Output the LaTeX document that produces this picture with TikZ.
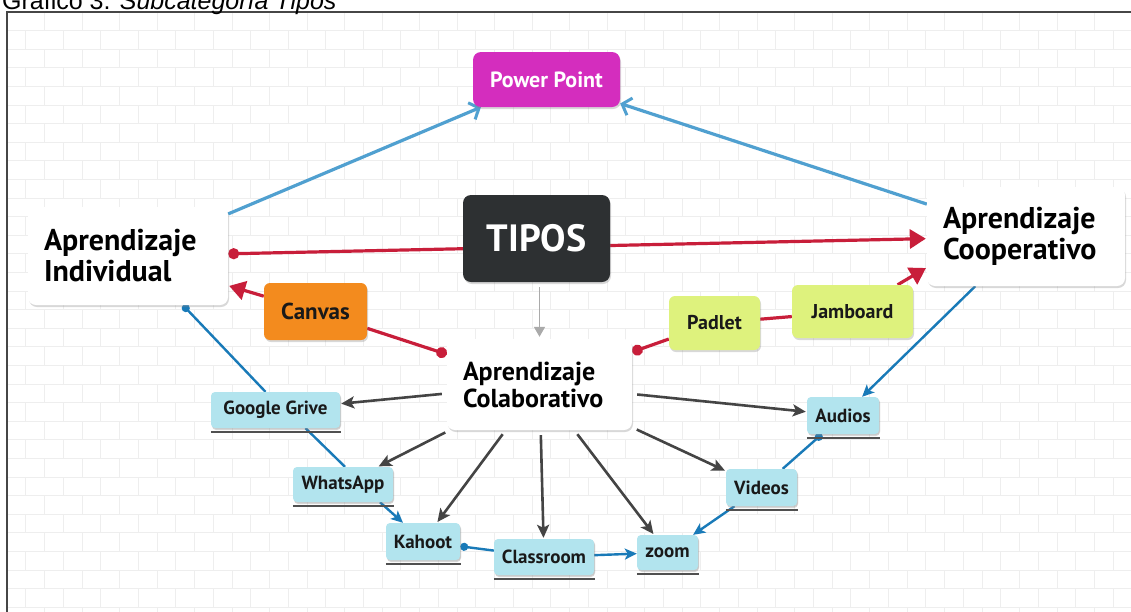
\documentclass[tikz,border=0pt]{standalone}
\usepackage{fontspec}
\setmainfont{Liberation Sans}
\newfontfamily\dfont{PT Sans}
\usetikzlibrary{arrows.meta,shadows,calc}
\definecolor{ppmag}{RGB}{212,45,190}
\definecolor{tipdark}{RGB}{45,48,50}
\definecolor{canorange}{RGB}{243,139,30}
\definecolor{limec}{RGB}{222,242,125}
\definecolor{toolc}{RGB}{178,228,238}
\definecolor{lblue}{RGB}{80,160,208}
\definecolor{dblue}{RGB}{25,122,184}
\definecolor{cred}{RGB}{200,30,58}
\definecolor{darr}{RGB}{68,68,68}
\definecolor{brickc}{RGB}{238,238,238}
\pgfdeclarelayer{bg}
\pgfsetlayers{bg,main}
\tikzset{
  box/.style={rounded corners=8pt, draw=none, inner sep=0pt,
    drop shadow={opacity=.3, shadow xshift=1pt, shadow yshift=-2pt}},
  bigbox/.style={box, fill=white, align=left, inner xsep=16pt,
    font={\dfont\bfseries\fontsize{30}{31}\selectfont}},
  toolbox/.style={box, rounded corners=4pt, fill=toolc, text={rgb,255:red,25;green,25;blue,25},
    drop shadow={opacity=.15, shadow xshift=1pt, shadow yshift=-1pt},
    font={\dfont\bfseries\fontsize{19}{21}\selectfont}},
  limebox/.style={box, rounded corners=6pt, fill=limec, text={rgb,255:red,25;green,25;blue,25},
    font={\dfont\bfseries\fontsize{20}{22}\selectfont}},
  uline/.style={draw={rgb,255:red,80;green,80;blue,80}, line width=1.5pt},
  brick/.style={draw=brickc, line width=0.9pt},
  ppline/.style={draw=lblue, line width=3.2pt, -{Straight Barb[length=8pt,width=18pt,line width=3pt]}},
  redline/.style={draw=cred, line width=3.2pt, shorten >=1pt,
    {Circle[length=11pt]}-{Triangle[length=16pt,width=19pt]}},
  redplain/.style={draw=cred, line width=3.2pt},
  darkline/.style={draw=darr, line width=2.6pt, shorten <=5pt, shorten >=1pt,
    -{Stealth[length=13pt,width=12pt,inset=3pt]}},
  blueline/.style={draw=dblue, line width=2.4pt},
  bluedot/.style={blueline, {Circle[length=8pt]}-},
  bluearrow/.style={blueline, -{Stealth[length=12pt,width=11pt,inset=3pt]}},
}
\begin{document}
\begin{tikzpicture}[x=1pt,y=-1pt]
\useasboundingbox (0,0) rectangle (1131,611);
\clip (0,0) rectangle (1131,611);
% title
\node[anchor=base west, inner sep=0pt, font=\fontsize{25}{28}\selectfont] (title) at (2,9) {Gráfico 3. \textit{Subcategoría Tipos}};
% nodes
\node[box, fill=ppmag, text=white, minimum width=147pt, minimum height=55pt,
  font={\dfont\bfseries\fontsize{22}{24}\selectfont}] (pp) at (546.5,79.5) {Power Point};
\node[box, fill=tipdark, text=white, minimum width=147pt, minimum height=87pt,
  font={\dfont\bfseries\fontsize{38}{40}\selectfont}] (tipos) at (536.5,238.5) {TIPOS};
\node[bigbox, text width=168pt, minimum height=98pt] (ind) at (128,256) {Aprendizaje\\Individual};
\node[bigbox, text width=166pt, minimum height=99pt] (coop) at (1026,236.5) {Aprendizaje\\Cooperativo};
\node[bigbox, text width=153pt, minimum height=91pt,
  font={\dfont\bfseries\fontsize{26}{27}\selectfont}] (col) at (539.5,384.5) {Aprendizaje\\Colaborativo};
\node[box, rounded corners=6pt, fill=canorange, text={rgb,255:red,25;green,25;blue,25}, minimum width=103pt, minimum height=57pt,
  font={\dfont\bfseries\fontsize{23}{25}\selectfont}] (canvas) at (315.5,311.5) {Canvas};
\node[limebox, minimum width=91pt, minimum height=54pt] (padlet) at (714.5,323) {Padlet};
\node[limebox, minimum width=121pt, minimum height=53pt] (jam) at (852.5,311.5) {Jamboard};
\node[toolbox, minimum width=129pt, minimum height=36pt] (gg) at (275.5,410) {Google Grive};
\node[toolbox, minimum width=100pt, minimum height=35pt] (wa) at (343,484.5) {WhatsApp};
\node[toolbox, minimum width=74pt, minimum height=37pt] (kahoot) at (423,541.5) {Kahoot};
\node[toolbox, minimum width=100pt, minimum height=36pt] (classroom) at (544,557) {Classroom};
\node[toolbox, minimum width=61pt, minimum height=35pt] (zoom) at (667.5,552.5) {zoom};
\node[toolbox, minimum width=71pt, minimum height=37pt] (videos) at (761.5,487.5) {Videos};
\node[toolbox, minimum width=72pt, minimum height=37pt] (audios) at (843,415.5) {Audios};
\foreach \n in {gg,wa,kahoot,classroom,zoom,videos,audios}
  \draw[uline] ($(\n.south west)+(0,4)$) -- ($(\n.south east)+(1,4)$);
\begin{pgfonlayer}{bg}
  \fill[white] (0,0) rectangle (1131,611);
  \foreach \r in {0,...,32} {
    \pgfmathsetmacro\yy{12+\r*18.6}
    \pgfmathsetmacro\off{mod(\r,2)*18.75}
    \draw[brick] (7,\yy) -- (1131,\yy);
    \foreach \c in {0,...,30} {
      \pgfmathsetmacro\xx{7+\off+\c*37.5}
      \draw[brick] (\xx,\yy) -- (\xx,\yy+18.6);
    }
  }
  \draw[draw={rgb,255:red,70;green,70;blue,70}, line width=1.5pt] (7,1200) -- (7,12) -- (1200,12);
  % connectors
  \draw[ppline] (ind) -- (pp);
  \draw[ppline] (coop) -- (pp);
  \draw[redline] (ind) -- (coop);
  \draw[redplain, {Circle[length=11pt]}-] (col) -- (canvas);
  \draw[redplain, shorten >=1pt, -{Triangle[length=16pt,width=19pt]}] (canvas) -- (ind);
  \draw[redplain, {Circle[length=11pt]}-] (col) -- (padlet);
  \draw[redplain] (padlet) -- (jam);
  \draw[redplain, shorten >=1pt, -{Triangle[length=16pt,width=19pt]}] (jam) -- ($(coop.west)+(0,31)$);
  \draw[draw={rgb,255:red,170;green,170;blue,170}, line width=1.6pt, shorten <=5pt, shorten >=2pt,
    -{Triangle[length=10pt,width=11pt]}] (tipos.south -| col.north) -- (col.north);
  \foreach \t in {gg,wa,kahoot,classroom,zoom,videos,audios}
    \draw[darkline] (col) -- (\t);
  \draw[bluedot] ($(ind.south)+(55,0)$) -- ($(gg.north)+(-10,0)$);
  \draw[blueline] ($(gg.south)+(30,0)$) -- ($(wa.north)+(2,0)$);
  \draw[bluearrow] ($(wa.south)+(37,0)$) -- ($(kahoot.north)+(-20,0)$);
  \draw[bluedot] (kahoot) -- (classroom);
  \draw[bluearrow] (classroom) -- (zoom);
  \draw[bluedot, -{Stealth[length=12pt,width=11pt,inset=3pt]}] (coop) -- (audios);
  \draw[bluedot] (audios) -- (videos);
  \draw[bluearrow] (videos) -- (zoom);
\end{pgfonlayer}
\end{tikzpicture}
\end{document}
